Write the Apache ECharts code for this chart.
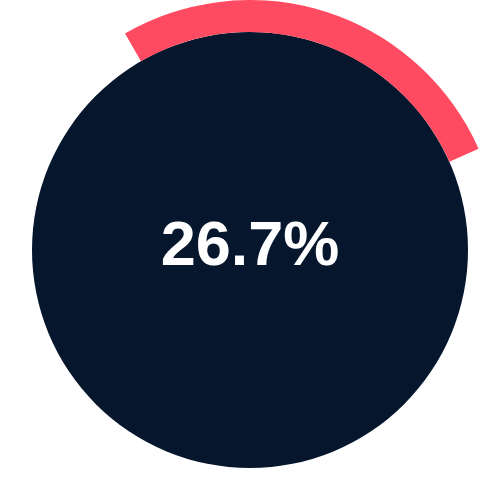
<!DOCTYPE html>
<html lang="en" style="height: 100%">
<head>
    <meta charset="UTF-8">
    <title>Progress</title>
    <script type="text/javascript" src="https://cdn.jsdelivr.net/npm/echarts@6/dist/echarts.min.js"></script>
</head>
<body style="height: 100%;margin: 0">

<div id="contar1" style="width: 500px;height: 500px"></div>

<script type="text/javascript">
    // share shown on the ring, and the rest of the circle
    var ringNames = ['done', 'rest'];
    var ringValues = [26.7, 73.3];
    var labelText = '26.7%';

    var chart = echarts.init(document.getElementById('contar1'));

    var ringData = [];
    for (var i = 0; i < ringNames.length; i++) {
        ringData.push({
            name: ringNames[i],
            value: ringValues[i],
            itemStyle: {color: i === 0 ? '#FF4B61' : 'rgba(0,0,0,0)'}
        });
    }

    var option = {
        animation: false,
        series: [
            {
                // dark disc
                type: 'pie',
                radius: [0, 218],
                center: ['50%', '50%'],
                silent: true,
                label: {show: false},
                labelLine: {show: false},
                itemStyle: {color: '#05162D'},
                data: [{value: 1, name: 'disc'}]
            },
            {
                type: 'pie',
                radius: [218, 250],
                center: ['50%', '50%'],
                startAngle: 120,
                clockwise: true,
                silent: true,
                label: {show: false},
                labelLine: {show: false},
                data: ringData
            }
        ],
        graphic: [
            {
                type: 'text',
                left: 'center',
                top: 216,
                z: 100,
                style: {
                    text: labelText,
                    fill: '#ffffff',
                    font: 'bold 63px "Liberation Sans", Arial, sans-serif'
                }
            }
        ]
    };

    chart.setOption(option);
</script>

</body>
</html>
